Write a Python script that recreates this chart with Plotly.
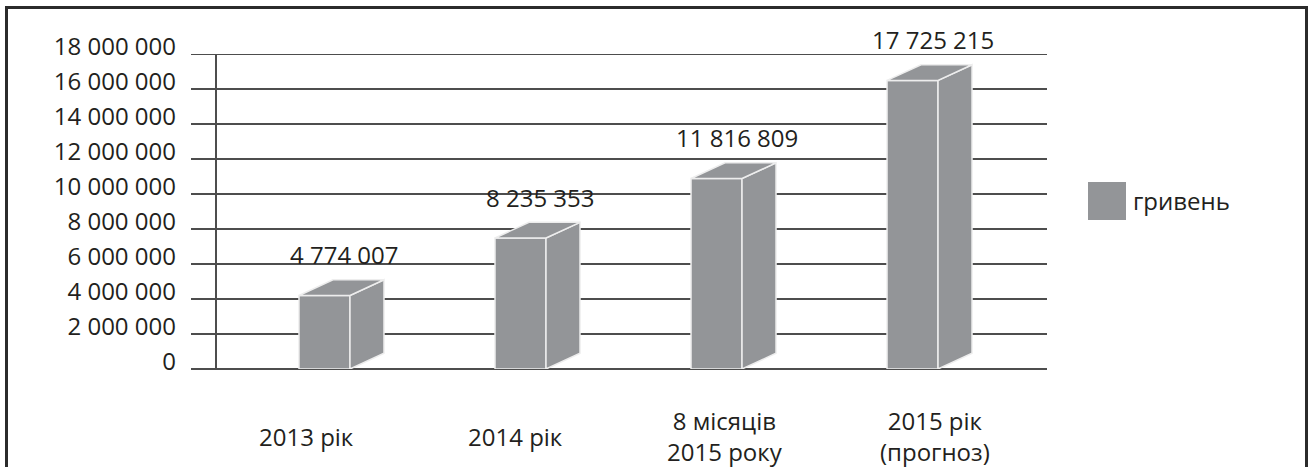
import plotly.graph_objects as go

# ---------------- data ----------------
categories = ["2013 рік", "2014 рік", "8 місяців<br>2015 року", "2015 рік<br>(прогноз)"]
values = [4774007, 8235353, 11816809, 17725215]
value_labels = ["4 774 007", "8 235 353", "11 816 809", "17 725 215"]
y_tickvals = [0, 2000000, 4000000, 6000000, 8000000, 10000000, 12000000, 14000000, 16000000, 18000000]
y_ticktext = ["0", "2 000 000", "4 000 000", "6 000 000", "8 000 000", "10 000 000",
              "12 000 000", "14 000 000", "16 000 000", "18 000 000"]
series_name = "гривень"

# ---------------- layout constants ----------------
W, H = 1314, 467
ML, MR, MT, MB = 191, 267, 54, 98
PW, PH = W - ML - MR, H - MT - MB
X_RANGE = [-0.681, 3.686]
Y_RANGE = [0, 18000000]
UX = PW / (X_RANGE[1] - X_RANGE[0])          # px per category unit
UY = PH / (Y_RANGE[1] - Y_RANGE[0])          # px per value unit

BAR_COLOR = "#939598"
EDGE_COLOR = "#ededed"
GRID_COLOR = "#4d4d4d"
TEXT_COLOR = "#231f20"
FONT = "Open Sans"
FS = 24

# pseudo-3D projection settings
HALF_W = 25.5 / UX          # half width of front face (category units)
DX = 34 / UX                # depth offset along x
DY = 15.7 / UY              # depth offset along y (value units)
PROJ_A, PROJ_B = 0.949, -330000   # front face top = A*value + B (perspective foreshortening)
LABEL_X0, LABEL_STEP = -0.091, 1.068   # category labels along front floor edge


def px_to_paper_x(px):
    return (px - ML) / PW


def px_to_paper_y(py):
    return (H - MB - py) / PH


fig = go.Figure()

# back-wall vertical axis line
wall_x = (216 - ML) / UX + X_RANGE[0]
fig.add_trace(go.Scatter(x=[wall_x, wall_x], y=[Y_RANGE[0], Y_RANGE[1]], mode="lines",
                         line=dict(color=GRID_COLOR, width=2), hoverinfo="skip", showlegend=False,
                         cliponaxis=False))

# top gridline (at the range edge plotly does not draw it)
fig.add_shape(type="line", xref="paper", yref="y", x0=0, x1=1, y0=Y_RANGE[1], y1=Y_RANGE[1],
              line=dict(color=GRID_COLOR, width=2), layer="below")

for i, v in enumerate(values):
    x0, x1 = i - HALF_W, i + HALF_W
    yt = PROJ_A * v + PROJ_B
    faces = [
        ([x0, x1, x1, x0, x0], [0, 0, yt, yt, 0]),                                   # front
        ([x1, x1 + DX, x1 + DX, x1, x1], [0, DY, yt + DY, yt, 0]),                   # side
        ([x0, x1, x1 + DX, x0 + DX, x0], [yt, yt, yt + DY, yt + DY, yt]),            # top
    ]
    for fx, fy in faces:
        fig.add_trace(go.Scatter(x=fx, y=fy, mode="lines", fill="toself",
                                 fillcolor=BAR_COLOR, line=dict(color=EDGE_COLOR, width=1.5),
                                 hoverinfo="skip", showlegend=False))
    # value label above the bar
    fig.add_annotation(x=i + DX / 2 + 3 / UX, y=yt + DY, yshift=25, text=value_labels[i],
                       showarrow=False, xanchor="center", yanchor="middle",
                       font=dict(family=FONT, size=FS, color=TEXT_COLOR))

# category labels
for i, c in enumerate(categories):
    fig.add_annotation(x=LABEL_X0 + LABEL_STEP * i, xref="x", y=px_to_paper_y(436.5), yref="paper",
                       text=c, showarrow=False, xanchor="center", yanchor="middle", align="center",
                       font=dict(family=FONT, size=FS, color=TEXT_COLOR))

# legend (square + text)
fig.add_shape(type="rect", xref="paper", yref="paper",
              x0=px_to_paper_x(1088), x1=px_to_paper_x(1126),
              y0=px_to_paper_y(220), y1=px_to_paper_y(182),
              fillcolor=BAR_COLOR, line=dict(width=0))
fig.add_annotation(xref="paper", yref="paper", x=px_to_paper_x(1131), y=px_to_paper_y(200),
                   text=series_name, showarrow=False, xanchor="left", yanchor="middle",
                   font=dict(family=FONT, size=FS, color=TEXT_COLOR))

# outer frame
fig.add_shape(type="rect", xref="paper", yref="paper",
              x0=px_to_paper_x(6.5), x1=px_to_paper_x(1306.5),
              y0=px_to_paper_y(490), y1=px_to_paper_y(7.5),
              line=dict(color="#2b2b2b", width=3), fillcolor="rgba(0,0,0,0)")

fig.update_layout(
    width=W, height=H, margin=dict(l=ML, r=MR, t=MT, b=MB),
    paper_bgcolor="white", plot_bgcolor="white", showlegend=False,
    font=dict(family=FONT, size=FS, color=TEXT_COLOR),
    xaxis=dict(range=X_RANGE, showgrid=False, zeroline=False, showticklabels=False,
               showline=False, fixedrange=True),
    yaxis=dict(range=Y_RANGE, tickvals=y_tickvals, ticktext=y_ticktext,
               showgrid=True, gridcolor=GRID_COLOR, gridwidth=2,
               zeroline=True, zerolinecolor=GRID_COLOR, zerolinewidth=2,
               showline=False, ticks="", ticklabelstandoff=14, ticklabelshift=-7,
               tickfont=dict(family=FONT, size=FS, color=TEXT_COLOR), fixedrange=True),
)

fig.write_html("out.html")
